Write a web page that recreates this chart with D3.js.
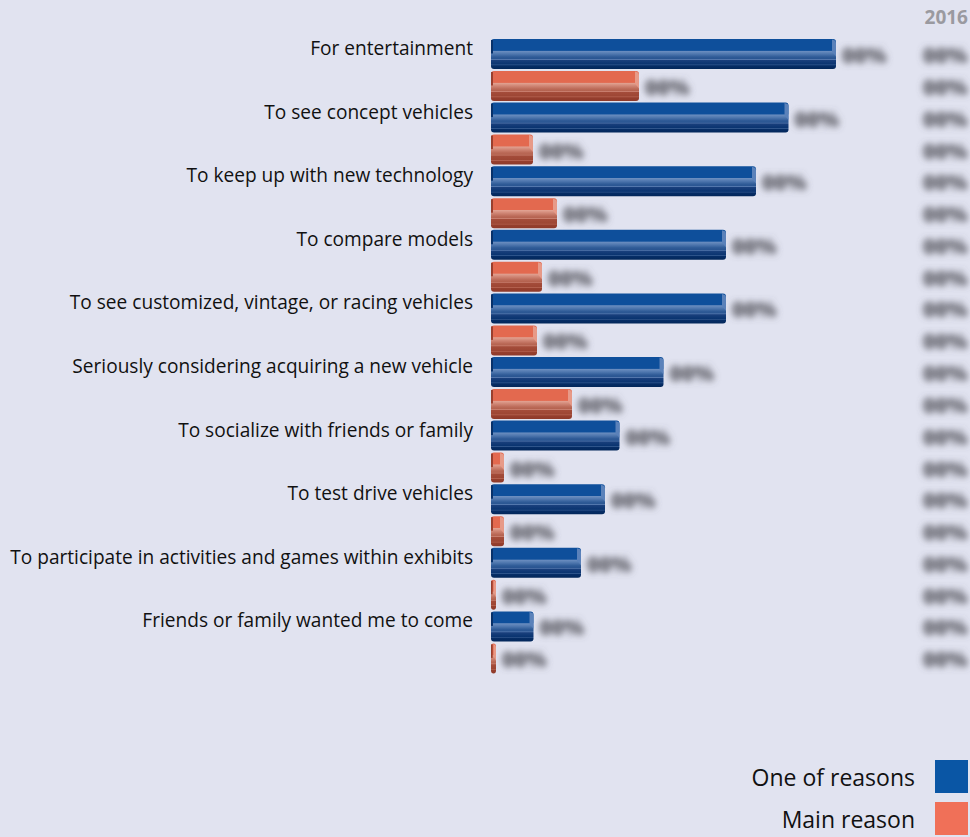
<!DOCTYPE html>
<html>
<head>
<meta charset="utf-8">
<script src="https://cdn.jsdelivr.net/npm/d3@7/dist/d3.min.js"></script>
<style>
  html, body { margin: 0; padding: 0; background: #e1e3f0; }
  svg { display: block; }
  text { font-family: "Open Sans", "Noto Sans", sans-serif; }
</style>
</head>
<body>
<svg id="chart" width="970" height="837"></svg>
<script>
// Reasons for attending the show, share of visitors (%)
const categories = [
  "For entertainment",
  "To see concept vehicles",
  "To keep up with new technology",
  "To compare models",
  "To see customized, vintage, or racing vehicles",
  "Seriously considering acquiring a new vehicle",
  "To socialize with friends or family",
  "To test drive vehicles",
  "To participate in activities and games within exhibits",
  "Friends or family wanted me to come"
];
const oneOfReasons = [69, 59.5, 53, 47, 47, 34.5, 25.7, 22.8, 18, 8.5];
const mainReason   = [29.6, 8.4, 13.2, 10.2, 9.2, 16.2, 2.6, 2.6, 1, 1];
const seriesNames  = ["One of reasons", "Main reason"];
const yearLabel    = "2016";
const hiddenValue  = "00%";

const svg = d3.select("#chart");
const W = 970, H = 837;

svg.append("rect").attr("width", W).attr("height", H).attr("fill", "#e1e3f0");

const defs = svg.append("defs");

// Blur used for the masked value labels
defs.append("filter").attr("id", "soft")
  .attr("x", "-50%").attr("y", "-100%").attr("width", "200%").attr("height", "300%")
  .append("feGaussianBlur").attr("stdDeviation", 3.6);

// Shaded fills giving each bar a bevelled, cylindrical look
const shades = {
  blue: [
    [0, "#0e4f9b"], [0.38, "#0e4f9b"], [0.41, "#6a8dbf"], [0.50, "#4f77ae"],
    [0.60, "#2f5b97"], [0.66, "#2a5591"], [0.68, "#5a7db2"], [0.71, "#193f7c"],
    [0.84, "#0a3470"], [0.86, "#34598f"], [0.89, "#062d66"], [1, "#03275a"]
  ],
  orange: [
    [0, "#e3694f"], [0.38, "#e3694f"], [0.41, "#e0a090"], [0.50, "#cf8574"],
    [0.60, "#bb6a58"], [0.66, "#b4624f"], [0.68, "#cc8373"], [0.71, "#a44c3a"],
    [0.84, "#9d4634"], [0.86, "#b66452"], [0.89, "#963f2e"], [1, "#8e3a2a"]
  ]
};
Object.entries(shades).forEach(([k, stops]) => {
  const g = defs.append("linearGradient").attr("id", "grad-" + k)
    .attr("x1", 0).attr("y1", 0).attr("x2", 0).attr("y2", 1);
  stops.forEach(([o, c]) => g.append("stop").attr("offset", o).attr("stop-color", c));
});

const x = d3.scaleLinear().domain([0, 100]).range([491, 991]);
const y = d3.scaleBand().domain(categories).range([39, 39 + 63.6 * categories.length]);
const barH = 30;

// Category labels, sized so the longest one spans its column
const labelG = svg.append("g");
const labels = labelG.selectAll("text").data(categories).join("text")
  .attr("x", 473)
  .attr("y", d => y(d) + 9)
  .attr("text-anchor", "end")
  .attr("dominant-baseline", "central")
  .attr("fill", "#111")
  .attr("font-size", 18)
  .text(d => d);
let widest = 0;
labels.each(function () { widest = Math.max(widest, this.getComputedTextLength()); });
labels.attr("font-size", 18 * 463 / widest);

const series = [
  { name: seriesNames[0], values: oneOfReasons, offset: 0,  shade: "blue",
    cap: "#5b82ba", edge: "#07316a", legend: "#0a56a5" },
  { name: seriesNames[1], values: mainReason,   offset: 32, shade: "orange",
    cap: "#e79a88", edge: "#9a3f2e", legend: "#f07058" }
];

const barsG = svg.append("g");
series.forEach(s => {
  const rows = categories.map((c, i) => ({ c, v: s.values[i], top: y(c) + s.offset }));
  const g = barsG.append("g").selectAll("g").data(rows).join("g");

  g.append("rect")
    .attr("x", x(0))
    .attr("y", d => d.top)
    .attr("width", d => x(d.v) - x(0))
    .attr("height", barH)
    .attr("rx", 3)
    .attr("fill", `url(#grad-${s.shade})`);

  // dark left edge on the upper face
  g.append("rect")
    .attr("x", x(0))
    .attr("y", d => d.top + 1)
    .attr("width", d => Math.min(2, (x(d.v) - x(0)) / 3))
    .attr("height", barH * 0.45)
    .attr("fill", s.edge);

  // lighter bevelled cap at the right end
  g.append("path")
    .attr("d", d => {
      const x1 = x(d.v), w = Math.min(4, (x(d.v) - x(0)) / 2);
      return `M${x1 - w},${d.top + 0.5} L${x1 - 1},${d.top + 1.5} Q${x1},${d.top + 2} ${x1},${d.top + 4}` +
             ` L${x1},${d.top + barH * 0.58} L${x1 - w},${d.top + barH * 0.42} Z`;
    })
    .attr("fill", s.cap);

  // masked value next to each bar
  g.append("text")
    .attr("x", d => x(d.v) + 6)
    .attr("y", d => d.top + 16)
    .attr("dominant-baseline", "central")
    .attr("font-size", 21)
    .attr("font-weight", 800)
    .attr("fill", "#56565e")
    .attr("filter", "url(#soft)")
    .text(hiddenValue);

  // masked value in the year column
  g.append("text")
    .attr("x", 923)
    .attr("y", d => d.top + 16)
    .attr("dominant-baseline", "central")
    .attr("font-size", 21)
    .attr("font-weight", 800)
    .attr("fill", "#56565e")
    .attr("filter", "url(#soft)")
    .text(hiddenValue);
});

// Year header
svg.append("text")
  .attr("x", 968).attr("y", 17)
  .attr("text-anchor", "end")
  .attr("dominant-baseline", "central")
  .attr("font-size", 19)
  .attr("font-weight", "bold")
  .attr("fill", "#9a9aa0")
  .text(yearLabel);

// Legend
const legend = svg.append("g").selectAll("g").data(series).join("g")
  .attr("transform", (d, i) => `translate(0, ${760 + i * 42})`);
legend.append("rect")
  .attr("x", 935).attr("y", 0).attr("width", 33).attr("height", 33)
  .attr("fill", d => d.legend);
legend.append("text")
  .attr("x", 915).attr("y", 17)
  .attr("text-anchor", "end")
  .attr("dominant-baseline", "central")
  .attr("font-size", 23)
  .attr("fill", "#111")
  .text(d => d.name);
</script>
</body>
</html>
